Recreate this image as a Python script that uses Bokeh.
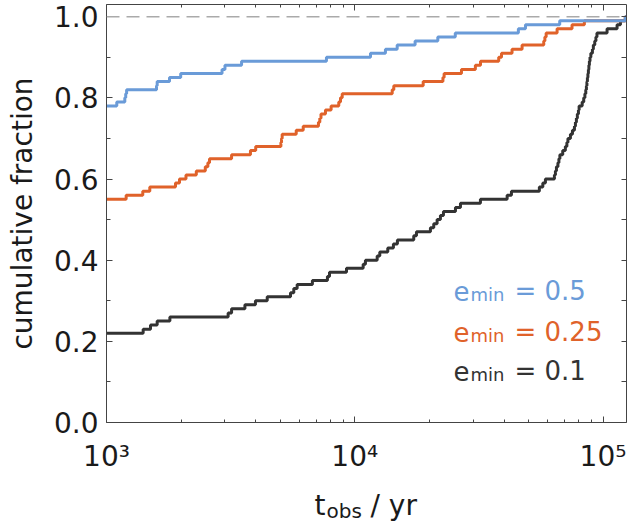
from bokeh.plotting import figure
from bokeh.layouts import column
from bokeh.models import Range1d, FixedTicker, LinearAxis, LogAxis, Span, Label, NumeralTickFormatter
from bokeh.embed import file_html
from bokeh.resources import INLINE

# ---------------- data ----------------
t_end = 1.3e5

blue_t = [1000, 1100, 1185, 1195, 1205, 1590, 1600, 1794, 1990, 2920, 3000, 3500,
          7690, 11570, 13290, 14820, 17500, 21600, 25400, 45600, 48700, 66900, 123000]
blue_f = [0.78, 0.79, 0.80, 0.81, 0.82, 0.83, 0.84, 0.85, 0.86, 0.87, 0.88, 0.89,
          0.90, 0.91, 0.92, 0.93, 0.94, 0.95, 0.96, 0.97, 0.98, 0.99, 1.00]

orange_t = [1000, 1200, 1400, 1494, 1896, 1968, 2090, 2300, 2500, 2560, 2600, 3190,
            3800, 3990, 5040, 5070, 5100, 5810, 6200, 7140, 7230, 7310, 7620, 8030,
            8620, 8760, 8900, 14150, 14360, 18860, 22650, 22900, 26900, 30600, 32100,
            38000, 39000, 43000, 47200, 57700, 58300, 59000, 65300, 75000, 84100, 123000]
orange_f = [0.55, 0.56, 0.57, 0.58, 0.59, 0.60, 0.61, 0.62, 0.63, 0.64, 0.65, 0.66,
            0.67, 0.68, 0.69, 0.70, 0.71, 0.72, 0.73, 0.74, 0.75, 0.76, 0.77, 0.78,
            0.79, 0.80, 0.81, 0.82, 0.83, 0.84, 0.85, 0.86, 0.87, 0.88, 0.89,
            0.90, 0.91, 0.92, 0.93, 0.94, 0.95, 0.96, 0.97, 0.98, 0.99, 1.00]

black_t = [1000, 1405, 1504, 1600, 1800, 3090, 3190, 3610, 3980, 4440, 5510, 5680,
           5860, 6750, 7760, 7910, 9260, 10810, 11040, 12310, 12610, 13580, 14310,
           14850, 17280, 17720, 20170, 20800, 21460, 22130, 22760, 25440, 26650,
           32070, 41090, 42760, 55400, 57200, 58600, 63700, 64300, 64900, 65800,
           66400, 67000, 68800, 70500, 71500, 72200, 73900, 75300, 76700, 77400,
           78100, 78800, 79600, 80100, 82400, 83600, 84500, 85200, 85700, 86100,
           86500, 86900, 87300, 87700, 88100, 88600, 89300, 90600, 91400, 92600,
           93600, 94500, 103800, 113900, 117500, 123000]
black_f = [0.22, 0.23, 0.24, 0.25, 0.26, 0.27, 0.28, 0.29, 0.30, 0.31, 0.32, 0.33,
           0.34, 0.35, 0.36, 0.37, 0.38, 0.39, 0.40, 0.41, 0.42, 0.43, 0.44,
           0.45, 0.46, 0.47, 0.48, 0.49, 0.50, 0.51, 0.52, 0.53, 0.54,
           0.55, 0.56, 0.57, 0.58, 0.59, 0.60, 0.61, 0.62, 0.63, 0.64,
           0.65, 0.66, 0.67, 0.68, 0.69, 0.70, 0.71, 0.72, 0.73, 0.74,
           0.75, 0.76, 0.77, 0.78, 0.79, 0.80, 0.81, 0.82, 0.83, 0.84,
           0.85, 0.86, 0.87, 0.88, 0.89, 0.90, 0.91, 0.92, 0.93, 0.94,
           0.95, 0.96, 0.97, 0.98, 0.99, 1.00]

series_names = ["0.5", "0.25", "0.1"]
series_colors = ["#6a9bd8", "#e0622a", "#333333"]

x_major = [1e3, 1e4, 1e5]
x_minor = [2e3, 3e3, 4e3, 5e3, 6e3, 7e3, 8e3, 9e3,
           2e4, 3e4, 4e4, 5e4, 6e4, 7e4, 8e4, 9e4]
x_labels = {1000: "10³", 10000: "10⁴", 100000: "10⁵"}
y_major = [0.0, 0.2, 0.4, 0.6, 0.8, 1.0]
y_minor = [0.1, 0.3, 0.5, 0.7, 0.9]

FONT = "DejaVu Sans"
AX = "#444444"
TXT = "#1a1a1a"

# ---------------- main figure ----------------
p = figure(frame_width=520, frame_height=418, x_axis_type="log",
           x_range=Range1d(1000, 124300), y_range=Range1d(0, 1.03),
           output_backend="svg", toolbar_location=None,
           min_border_left=106, min_border_right=3, min_border_top=4, min_border_bottom=60)
p.xgrid.visible = False
p.ygrid.visible = False
p.outline_line_color = None

def style_axis(ax, maj, mnr):
    ax.axis_line_color = AX
    ax.axis_line_width = 1
    ax.major_tick_in = maj
    ax.major_tick_out = 0
    ax.minor_tick_in = mnr
    ax.minor_tick_out = 0
    ax.major_tick_line_color = AX
    ax.minor_tick_line_color = AX
    ax.major_label_text_font = FONT
    ax.major_label_text_font_size = "28px"
    ax.major_label_text_color = TXT

xt = FixedTicker(ticks=x_major, minor_ticks=x_minor)
yt = FixedTicker(ticks=y_major, minor_ticks=y_minor)

xa = p.xaxis[0]
xa.ticker = xt
xa.major_label_overrides = x_labels
style_axis(xa, 6, 3)
xa.major_label_standoff = 17

ya = p.yaxis[0]
ya.ticker = yt
ya.formatter = NumeralTickFormatter(format="0.0")
style_axis(ya, 6, 4)
ya.major_label_standoff = 8
ya.axis_label = "cumulative fraction"
ya.axis_label_text_font = FONT
ya.axis_label_text_font_size = "28px"
ya.axis_label_text_font_style = "normal"
ya.axis_label_text_color = TXT
ya.axis_label_standoff = 12

top = LogAxis(ticker=xt)
style_axis(top, 6, 3)
top.major_label_text_font_size = "1px"
top.major_label_text_alpha = 0
top.major_label_standoff = 0
p.add_layout(top, "above")

right = LinearAxis(ticker=yt)
style_axis(right, 5, 5)
right.major_label_text_font_size = "1px"
right.major_label_text_alpha = 0
right.major_label_standoff = 0
p.add_layout(right, "right")

p.add_layout(Span(location=1.0, dimension="width", line_color="#aaaaaa",
                  line_width=1.5, line_dash="13 7"))

for ts, fs, c in [(black_t, black_f, series_colors[2]),
                  (orange_t, orange_f, series_colors[1]),
                  (blue_t, blue_f, series_colors[0])]:
    xs = list(ts) + [t_end]
    ys = list(fs) + [fs[-1]]
    p.step(xs, ys, mode="after", line_color=c, line_width=3)

# legend text (e_min = ...)
rows_base = [132, 91, 52]
for name, c, yb in zip(series_names, series_colors, rows_base):
    p.add_layout(Label(x=347, y=yb, x_units="screen", y_units="screen", text="e",
                       text_font=FONT, text_font_size="26px", text_color=c,
                       text_baseline="alphabetic"))
    p.add_layout(Label(x=364, y=yb - 4, x_units="screen", y_units="screen", text="min",
                       text_font=FONT, text_font_size="18px", text_color=c,
                       text_baseline="alphabetic"))
    p.add_layout(Label(x=408, y=yb, x_units="screen", y_units="screen", text="= " + name,
                       text_font=FONT, text_font_size="26px", text_color=c,
                       text_baseline="alphabetic"))

# ---------------- strip under the plot for the x label t_obs / yr ----------------
q = figure(frame_width=520, frame_height=47, x_range=Range1d(0, 1), y_range=Range1d(0, 1),
           output_backend="svg", toolbar_location=None,
           x_axis_location=None, y_axis_location=None,
           min_border_left=106, min_border_right=3, min_border_top=0, min_border_bottom=0)
q.xgrid.visible = False
q.ygrid.visible = False
q.outline_line_color = None
q.add_layout(Label(x=208, y=24, x_units="screen", y_units="screen", text="t",
                   text_font=FONT, text_font_size="28px", text_color=TXT,
                   text_baseline="alphabetic"))
q.add_layout(Label(x=220, y=19, x_units="screen", y_units="screen", text="obs",
                   text_font=FONT, text_font_size="20px", text_color=TXT,
                   text_baseline="alphabetic"))
q.add_layout(Label(x=264, y=24, x_units="screen", y_units="screen", text="/ yr",
                   text_font=FONT, text_font_size="28px", text_color=TXT,
                   text_baseline="alphabetic"))

layout = column(p, q, spacing=0)
open("out.html", "w").write(file_html(layout, INLINE))
